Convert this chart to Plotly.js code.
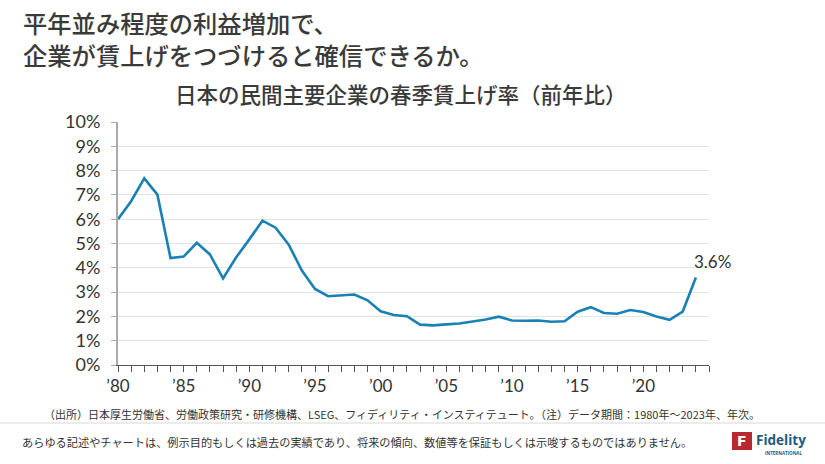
<!DOCTYPE html>
<html>
<head>
<meta charset="utf-8">
<script src="https://cdn.plot.ly/plotly-3.0.1.min.js"></script>
<style>
html,body{margin:0;padding:0;background:#fff;}
#chart{width:825px;height:464px;}
</style>
</head>
<body>
<div id="chart"></div>
<script>
// Data (as plotted positions on the x axis)
const years = [1980,1981,1982,1983,1984,1985,1986,1987,1988,1989,1990,1991,1992,1993,1994,1995,1996,1997,1998,1999,2000,2001,2002,2003,2004,2005,2006,2007,2008,2009,2010,2011,2012,2013,2014,2015,2016,2017,2018,2019,2020,2021,2022,2023,2024];
const wageRise = [6.00,6.74,7.68,7.01,4.40,4.46,5.03,4.55,3.56,4.43,5.17,5.94,5.65,4.95,3.89,3.13,2.83,2.86,2.90,2.66,2.21,2.06,2.01,1.66,1.63,1.67,1.71,1.79,1.87,1.99,1.83,1.82,1.83,1.78,1.80,2.19,2.38,2.14,2.11,2.26,2.18,2.00,1.86,2.20,3.60];
const xTickVals = [1980,1985,1990,1995,2000,2005,2010,2015,2020];
const xTickText = ["’80","’85","’90","’95","’00","’05","’10","’15","’20"];
const lastLabel = "3.6%";

const W = 825, H = 464;
const M = {l:118, r:116, t:122, b:99};
const PW = W - M.l - M.r, PH = H - M.t - M.b;
const px = x => (x - M.l) / PW;
const py = y => (H - M.b - y) / PH;

const JP = '"Noto Sans CJK JP", "Noto Sans", sans-serif';
const NUM = 'Lato, "Noto Sans", sans-serif';

const trace = {
  x: years, y: wageRise, type: 'scatter', mode: 'lines',
  line: {color: '#1a81b5', width: 2.6}, hoverinfo: 'skip'
};

const ann = (text, x, y, size, opts) => Object.assign({
  text: text, xref: 'paper', yref: 'paper', x: px(x), y: py(y),
  showarrow: false, xanchor: 'left', yanchor: 'middle',
  font: {family: JP, size: size, color: '#333'}
}, opts || {});

const layout = {
  width: W, height: H,
  margin: M,
  paper_bgcolor: '#fff', plot_bgcolor: '#fff',
  showlegend: false,
  xaxis: {
    range: [1980, 2025], tickmode: 'array', tickvals: xTickVals, ticktext: xTickText,
    showgrid: false, zeroline: false,
    showline: true, linecolor: '#555', linewidth: 1,
    ticks: 'outside', ticklen: 6, tickcolor: '#555', tickwidth: 1,
    minor: {tickmode: 'linear', tick0: 1980, dtick: 1, ticks: 'outside', ticklen: 6, tickcolor: '#555', tickwidth: 1, showgrid: false},
    tickfont: {family: NUM, size: 17, color: '#333'}
  },
  yaxis: {
    range: [0, 10], dtick: 1, ticksuffix: '%',
    showgrid: true, gridcolor: '#e3e3e3', gridwidth: 1, zeroline: false,
    showline: true, linecolor: '#aaa', linewidth: 2,
    ticks: 'outside', ticklen: 5, tickcolor: '#aaa',
    ticklabelstandoff: 7,
    tickfont: {family: NUM, size: 18, color: '#333'}
  },
  annotations: [
    ann('平年並み程度の利益増加で、<br>企業が賃上げをつづけると確信できるか。', 21, 38, 24.3, {align: 'left', font: {family: JP, size: 24.3, color: '#3a3a3a', weight: 500}}),
    ann('日本の民間主要企業の春季賃上げ率（前年比）', 401, 93, 21.5, {xanchor: 'center', font: {family: JP, size: 21.5, color: '#3a3a3a', weight: 500}}),
    {text: lastLabel, x: years[years.length-1], y: wageRise[wageRise.length-1], xref: 'x', yref: 'y',
     showarrow: false, xanchor: 'center', yanchor: 'bottom', yshift: 4, xshift: 17,
     font: {family: NUM, size: 17, color: '#333'}},
    ann('（出所）日本厚生労働省、労働政策研究・研修機構、LSEG、フィディリティ・インスティテュート。（注）データ期間：1980年～2023年、年次。', 42, 414, 11, {font: {family: JP, size: 11, color: '#333'}}),
    ann('あらゆる記述やチャートは、例示目的もしくは過去の実績であり、将来の傾向、数値等を保証もしくは示唆するものではありません。', 20, 442, 11.2, {font: {family: JP, size: 11.2, color: '#333'}}),
    ann('<b>F</b>', 742, 441, 14, {xanchor: 'center', font: {family: 'DejaVu Sans, sans-serif', size: 14, color: '#fff'}}),
    ann('<b>Fidelity</b>', 754, 440, 13.5, {font: {family: '"Open Sans", sans-serif', size: 13.5, color: '#1b5c80'}}),
    ann('<b>INTERNATIONAL</b>', 783, 453, 4.5, {xanchor: 'center', font: {family: '"Open Sans", sans-serif', size: 4.5, color: '#1b5c80'}})
  ],
  shapes: [
    {type: 'line', xref: 'paper', yref: 'paper', x0: px(0), x1: px(W), y0: py(423), y1: py(423), line: {color: '#d8d8d8', width: 1}},
    {type: 'rect', xref: 'paper', yref: 'paper', x0: px(732), x1: px(752), y0: py(432), y1: py(450), fillcolor: '#b8282e', line: {width: 0}}
  ]
};

Plotly.newPlot('chart', [trace], layout, {displayModeBar: false, staticPlot: true});
</script>
</body>
</html>
